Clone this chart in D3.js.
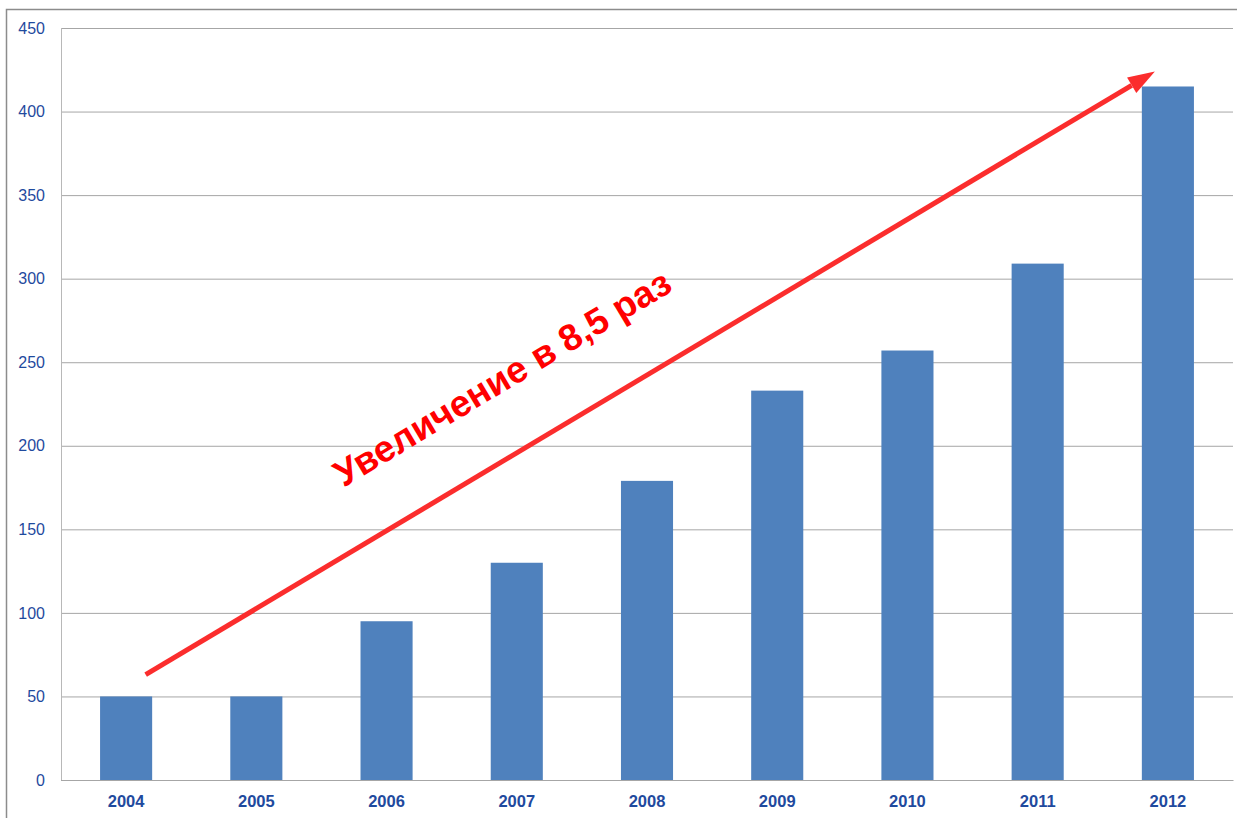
<!DOCTYPE html>
<html>
<head>
<meta charset="utf-8">
<script src="https://cdn.jsdelivr.net/npm/d3@7"></script>
<style>
	body { margin: 0; background: #fff; }
	svg { display: block; }
	.axis text { font-family: 'Liberation Sans', Arial, sans-serif; fill: #1f4a9e; }
</style>
</head>
<body>
<div id="chart"></div>
<script>
// data
var years = ['2004', '2005', '2006', '2007', '2008', '2009', '2010', '2011', '2012'];
var values = [50, 50, 95, 130, 179, 233, 257, 309, 415];
var yTicks = [0, 50, 100, 150, 200, 250, 300, 350, 400, 450];

// arrow annotation: [category index, value]
var arrowFrom = [0.15, 63];
var arrowTo = [7.9, 424];
var noteText = 'Увеличение в 8,5 раз';
var notePos = [2.89, 240.5];

var W = 1237, H = 818;
var margin = { top: 28, right: 4, bottom: 38, left: 61 };
var width = W - margin.left - margin.right;
var height = H - margin.top - margin.bottom;

var svg = d3.select('#chart').append('svg')
	.attr('width', W)
	.attr('height', H);

// outer frame (only top & left edges show in the picture)
svg.append('rect')
	.attr('x', 6.5)
	.attr('y', 9.5)
	.attr('width', W + 10)
	.attr('height', H + 10)
	.attr('fill', 'none')
	.attr('stroke', '#8c8c8c')
	.attr('stroke-width', 1.5);

var g = svg.append('g')
	.attr('transform', 'translate(' + margin.left + ',' + margin.top + ')');

var x = d3.scaleBand()
	.domain(years)
	.range([0, width])
	.paddingInner(0.6)
	.paddingOuter(0.3);

// continuous version of x for the annotation
var xc = d3.scaleLinear()
	.domain([-0.5, years.length - 0.5])
	.range([0, width]);

var y = d3.scaleLinear()
	.domain([0, 450])
	.range([height, 0]);

// gridlines + y labels
var yAxis = d3.axisLeft(y)
	.tickValues(yTicks)
	.tickSize(-width)
	.tickPadding(16);

var gy = g.append('g')
	.attr('class', 'y axis')
	.call(yAxis);
gy.select('.domain').remove();
gy.selectAll('line')
	.attr('stroke', '#a6a6a6');
gy.selectAll('text')
	.style('font-size', '16px');

// left axis line
g.append('line')
	.attr('x1', 0.5).attr('x2', 0.5)
	.attr('y1', 0).attr('y2', height)
	.attr('stroke', '#b8b8b8');

// bars
g.selectAll('.bar')
	.data(values)
	.enter().append('rect')
	.attr('class', 'bar')
	.attr('x', function(d, i) { return x(years[i]); })
	.attr('width', x.bandwidth())
	.attr('y', function(d) { return y(d); })
	.attr('height', function(d) { return height - y(d); })
	.attr('fill', '#4f81bd');

// x labels
var xAxis = d3.axisBottom(x)
	.tickSize(0)
	.tickPadding(15);

var gx = g.append('g')
	.attr('class', 'x axis')
	.attr('transform', 'translate(0,' + height + ')')
	.call(xAxis);
gx.select('.domain')
	.attr('stroke', '#a6a6a6');
gx.selectAll('text')
	.style('font-size', '16.5px')
	.style('font-weight', 'bold');

// arrow
var x1 = xc(arrowFrom[0]), y1 = y(arrowFrom[1]);
var x2 = xc(arrowTo[0]), y2 = y(arrowTo[1]);
var ang = Math.atan2(y2 - y1, x2 - x1);
var headLen = 27, headW = 9;
var bx = x2 - headLen * Math.cos(ang), by = y2 - headLen * Math.sin(ang);

g.append('line')
	.attr('x1', x1).attr('y1', y1)
	.attr('x2', bx).attr('y2', by)
	.attr('stroke', '#fb2d2d')
	.attr('stroke-width', 5);

g.append('path')
	.attr('d', 'M' + x2 + ',' + y2 +
		'L' + (bx + headW * Math.sin(ang)) + ',' + (by - headW * Math.cos(ang)) +
		'L' + (bx - headW * Math.sin(ang)) + ',' + (by + headW * Math.cos(ang)) + 'Z')
	.attr('fill', '#fb2d2d');

// note text, parallel to the arrow
g.append('text')
	.attr('transform', 'translate(' + xc(notePos[0]) + ',' + y(notePos[1]) + ') rotate(' + (ang * 180 / Math.PI) + ')')
	.attr('text-anchor', 'middle')
	.attr('dominant-baseline', 'central')
	.style('font-family', "'Liberation Sans', Arial, sans-serif")
	.style('font-size', '37px')
	.style('font-weight', 'bold')
	.attr('fill', '#ff0000')
	.text(noteText);
</script>
</body>
</html>
